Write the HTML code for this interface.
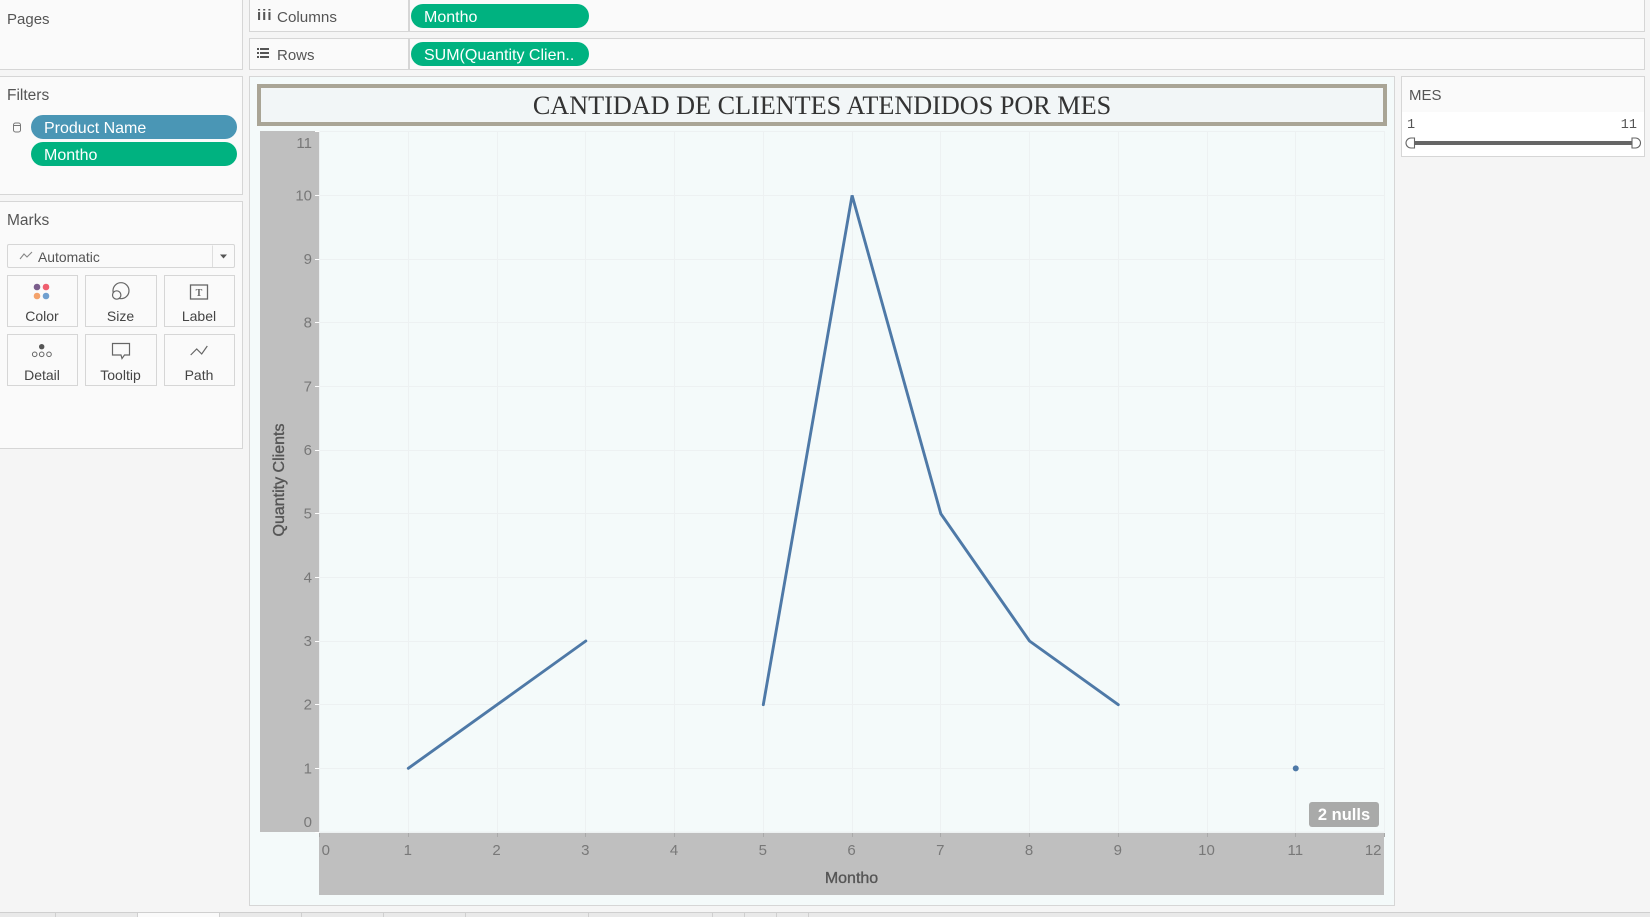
<!DOCTYPE html>
<html lang="en">
<head>
<meta charset="utf-8">
<title>Cantidad de clientes atendidos por mes</title>
<style>
html,body{margin:0;padding:0;background:#f5f5f5;}
#app{position:relative;width:1650px;height:917px;overflow:hidden;background:#f5f5f5;font-family:"Liberation Sans",sans-serif;color:#555;}
.panel{position:absolute;box-sizing:border-box;background:#fafafa;border:1.5px solid #d6d6d6;}
.txt{position:absolute;white-space:nowrap;font-size:15px;line-height:18px;color:#555;}
.pill{position:absolute;box-sizing:border-box;border-radius:12px;color:#fff;font-size:16px;line-height:27px;height:24px;padding-left:13px;white-space:nowrap;overflow:hidden;}
.green{background:#00b280;}
.blue{background:#4a96b5;}
.btn{position:absolute;box-sizing:border-box;background:#fafafa;border:1.5px solid #d6d6d6;width:71px;height:52px;}
.btn span{position:absolute;left:-1px;right:0;top:32px;text-align:center;font-size:14px;line-height:16px;color:#444;}
.btn svg{position:absolute;left:-1.5px;top:-1.5px;}
.tab{position:absolute;top:912px;height:5px;box-sizing:border-box;border-top:1.5px solid #cfcfcf;border-right:1.5px solid #cfcfcf;background:#e9e9e9;}
</style>
</head>
<body>
<div id="app">

  <div class="panel" style="left:-2px;top:-2px;width:244.5px;height:71.5px;"></div>
  <div class="txt" style="left:7px;top:11px;">Pages</div>

  <div class="panel" style="left:-2px;top:76px;width:244.5px;height:118.5px;"></div>
  <div class="txt" style="left:7px;top:87px;font-size:15.5px;">Filters</div>
  <svg style="position:absolute;left:12px;top:121px;" width="10" height="13"><rect x="1.5" y="2" width="7" height="9" rx="2" fill="none" stroke="#777" stroke-width="1"/><line x1="1.5" y1="4.500" x2="8.500" y2="4.500" stroke="#777" stroke-width="1"/></svg>
  <div class="pill blue" style="left:31px;top:115px;width:206px;">Product Name</div>
  <div class="pill green" style="left:31px;top:142px;width:206px;">Montho</div>

  <div class="panel" style="left:-2px;top:201px;width:244.5px;height:247.5px;"></div>
  <div class="txt" style="left:7px;top:212px;font-size:15.5px;">Marks</div>
  <div class="panel" style="left:7px;top:244px;width:228px;height:24px;border-radius:2px;"></div>
  <svg style="position:absolute;left:18px;top:245px;overflow:visible;" width="216" height="22">
    <polyline points="2,14 6,9 9,12 14,7" fill="none" stroke="#888" stroke-width="1.1"/>
    <line x1="194.500" y1="0.500" x2="194.500" y2="22" stroke="#dedede" stroke-width="1"/>
    <polygon points="202,9.500 209,9.500 205.500,13.500" fill="#555"/>
  </svg>
  <div class="txt" style="left:38px;top:247.500px;font-size:13.900px;">Automatic</div>

  <div class="btn" style="left:7px;top:275px;">
    <svg width="71" height="30"><circle cx="30" cy="12" r="3.300" fill="#7b5e8c"/><circle cx="39" cy="12" r="3.300" fill="#ef5f6f"/><circle cx="30" cy="21" r="3.300" fill="#f4a26b"/><circle cx="39" cy="21" r="3.300" fill="#6f9fcf"/></svg>
    <span>Color</span>
  </div>
  <div class="btn" style="left:85px;top:275px;width:72px;">
    <svg width="72" height="30"><circle cx="36" cy="15.700" r="8" fill="none" stroke="#666" stroke-width="1.200"/><circle cx="31.700" cy="20" r="4.200" fill="#fafafa" stroke="#666" stroke-width="1.200"/></svg>
    <span>Size</span>
  </div>
  <div class="btn" style="left:164px;top:275px;">
    <svg width="71" height="30"><rect x="26.500" y="10" width="17" height="14" fill="none" stroke="#666" stroke-width="1.300"/><text x="35" y="21" text-anchor="middle" font-family="Liberation Serif, serif" font-size="10" font-weight="bold" fill="#666">T</text></svg>
    <span>Label</span>
  </div>
  <div class="btn" style="left:7px;top:334px;">
    <svg width="71" height="30"><circle cx="34.700" cy="12.700" r="2.700" fill="#555"/><circle cx="27.700" cy="20.300" r="2.300" fill="none" stroke="#666"/><circle cx="34.700" cy="20.300" r="2.300" fill="none" stroke="#666"/><circle cx="42" cy="20.300" r="2.300" fill="none" stroke="#666"/></svg>
    <span>Detail</span>
  </div>
  <div class="btn" style="left:85px;top:334px;width:72px;">
    <svg width="72" height="30"><path d="M27.500 9.500h17v11.500h-5l-2.500 3.500-1-3.500h-8.500z" fill="none" stroke="#666" stroke-width="1.200"/></svg>
    <span>Tooltip</span>
  </div>
  <div class="btn" style="left:164px;top:334px;">
    <svg width="71" height="30"><polyline points="26.700,21 32.700,15 37.700,20 43.300,12" fill="none" stroke="#666" stroke-width="1.200"/></svg>
    <span>Path</span>
  </div>

  <div class="panel" style="left:249px;top:-2px;width:1396px;height:33.500px;"></div>
  <div style="position:absolute;left:408px;top:0;width:1.500px;height:31px;background:#d6d6d6;"></div>
  <div class="txt" style="left:257px;top:7px;letter-spacing:1px;font-weight:bold;font-size:15px;">iii</div>
  <div class="txt" style="left:277px;top:9px;font-size:15.200px;">Columns</div>
  <div class="pill green" style="left:411px;top:4px;width:178px;">Montho</div>

  <div class="panel" style="left:249px;top:38px;width:1396px;height:31.500px;"></div>
  <div style="position:absolute;left:408px;top:38px;width:1.500px;height:31px;background:#d6d6d6;"></div>
  <svg style="position:absolute;left:257px;top:48px;" width="13" height="11"><g fill="#555"><rect x="0" y="0" width="2" height="2"/><rect x="3" y="0" width="9" height="2"/><rect x="0" y="4" width="2" height="2"/><rect x="3" y="4" width="9" height="2"/><rect x="0" y="8" width="2" height="2"/><rect x="3" y="8" width="9" height="2"/></g></svg>
  <div class="txt" style="left:277px;top:47px;">Rows</div>
  <div class="pill green" style="left:411px;top:42px;width:178px;">SUM(Quantity Clien..</div>

  <div class="panel" style="left:249px;top:76px;width:1146px;height:830px;background:#f4fafa;"></div>
  <div style="position:absolute;box-sizing:border-box;left:257px;top:84px;width:1130px;height:42px;background:#f2f6f7;border:4px solid #a9a596;"></div>
  <div style="position:absolute;left:257px;width:1130px;top:89px;height:34px;line-height:34px;text-align:center;font-family:'Liberation Serif',serif;font-size:26.200px;color:#333;white-space:nowrap;">CANTIDAD DE CLIENTES ATENDIDOS POR MES</div>

  <svg id="chart" style="position:absolute;left:0;top:0;" width="1650" height="917" font-family="Liberation Sans, sans-serif"></svg>

  <div class="panel" style="left:1401px;top:76px;width:244px;height:81px;"></div>
  <div style="position:absolute;left:1402px;top:112px;width:242px;height:44px;background:#fff;"></div>
  <div class="txt" style="left:1409px;top:87px;">MES</div>
  <div class="txt" style="left:1407px;top:117px;font-size:13.500px;font-family:'Liberation Mono',monospace;">1</div>
  <div class="txt" style="right:13px;top:117px;font-size:13.500px;font-family:'Liberation Mono',monospace;">11</div>
  <svg style="position:absolute;left:1400px;top:132px;" width="244" height="22">
    <rect x="15" y="9" width="217" height="4" fill="#666"/>
    <path d="M14.500 6h-3.500a5 5 0 0 0 0 10h3.500z" fill="#fff" stroke="#666" stroke-width="1.100"/>
    <path d="M232 6h3.500a5 5 0 0 1 0 10h-3.500z" fill="#fff" stroke="#666" stroke-width="1.100"/>
  </svg>

  <div id="tabs"></div>
</div>

<script>
const xTicks = [0, 1, 2, 3, 4, 5, 6, 7, 8, 9, 10, 11, 12];
const yTicks = [0, 1, 2, 3, 4, 5, 6, 7, 8, 9, 10, 11];
const months = [1, 2, 3, 4, 5, 6, 7, 8, 9, 10, 11];
const quantityClients = [1, 2, 3, null, 2, 10, 5, 3, 2, null, 1];
const nullCount = 2;

const svgNS = 'http://www.w3.org/2000/svg';
const chart = document.getElementById('chart');
const X = v => 319.6 + (v - 0) * (1384.5 - 319.6) / 12;
const Y = v => 832 - (v - 0) * (832 - 131.7) / 11;

function mk(tag, attrs, parent) {
  const el = document.createElementNS(svgNS, tag);
  for (const k in attrs) el.setAttribute(k, attrs[k]);
  (parent || chart).appendChild(el);
  return el;
}

const yBand = mk('rect', {x: 260, y: 131, width: 59.5, height: 701, fill: '#bfbfbf'});


const xBand = mk('rect', {x: 319, y: 833, width: 1065, height: 62, fill: '#bfbfbf'});


const pane = mk('rect', {x: 319.5, y: 131.5, width: 1065, height: 700.5, fill: '#f4fafa', stroke: '#eef2f3', 'stroke-width': 1});



xTicks.forEach(function (t) {
  const px = Math.floor(X(t)) + 0.5;
  const grid = mk('line', {x1: px, x2: px, y1: 131, y2: 832, stroke: '#edf1f2', 'stroke-width': 1});
  
  
  const tick = mk('line', {x1: px, x2: px, y1: 833, y2: 837, stroke: '#a9a9a9', 'stroke-width': 1});
  
  
  let anchor = 'middle', lx = X(t) - 0.5;
  if (t === xTicks[0]) { anchor = 'start'; lx = X(t) + 2; }
  if (t === xTicks[xTicks.length - 1]) { anchor = 'end'; lx = X(t) - 3; }
  const label = mk('text', {x: lx, y: 855, 'text-anchor': anchor, 'font-size': 15, fill: '#787878'});
  
  
  label.textContent = t;
});

yTicks.forEach(function (t) {
  const py = Math.floor(Y(t)) + 0.5;
  const grid = mk('line', {x1: 319, x2: 1384, y1: py, y2: py, stroke: '#edf1f2', 'stroke-width': 1});
  
  
  const tick = mk('line', {x1: 315, x2: 319.5, y1: py, y2: py, stroke: '#ffffff', 'stroke-width': 1});
  
  
  let ly = Y(t) + 5;
  if (t === yTicks[0]) ly = Y(t) - 5;
  if (t === yTicks[yTicks.length - 1]) ly = Y(t) + 16.5;
  const label = mk('text', {x: 312, y: ly, 'text-anchor': 'end', 'font-size': 15, fill: '#787878'});
  
  
  label.textContent = t;
});

let run = [];
function flushRun() {
  if (run.length === 1) {
    const dot = mk('circle', {cx: X(run[0][0]), cy: Y(run[0][1]), r: 3, fill: '#4e79a7'});
    
    
  } else if (run.length > 1) {
    const pts = run.map(p => X(p[0]).toFixed(1) + ',' + Y(p[1]).toFixed(1)).join(' ');
    const line = mk('polyline', {points: pts, fill: 'none', stroke: '#4e79a7', 'stroke-width': 2.9, 'stroke-linejoin': 'miter', 'stroke-linecap': 'round'});
    
    
  }
  run = [];
}
months.forEach(function (m, i) {
  if (quantityClients[i] === null) { flushRun(); }
  else { run.push([m, quantityClients[i]]); }
});
flushRun();

const badge = mk('rect', {x: 1309, y: 802, width: 70, height: 25, rx: 3, fill: '#a9aaa9'});


const badgeText = mk('text', {x: 1344, y: 820, 'text-anchor': 'middle', 'font-size': 16.5, 'font-weight': 'bold', fill: '#ffffff'});


badgeText.textContent = nullCount + ' nulls';

const xTitle = mk('text', {x: 851.5, y: 883, 'text-anchor': 'middle', 'font-size': 16, 'font-weight': 'normal', stroke: '#555555', 'stroke-width': 0.35, fill: '#555555'});


xTitle.textContent = 'Montho';
const yTitle = mk('text', {x: 0, y: 0, 'text-anchor': 'middle', 'font-size': 16, 'font-weight': 'normal', stroke: '#555555', 'stroke-width': 0.35, fill: '#555555', transform: 'translate(284,480) rotate(-90)'});


yTitle.textContent = 'Quantity Clients';

const tabEdges = [0, 55.5, 137.5, 219.5, 301.5, 383.5, 465.5, 589, 713, 745, 777, 809];
const tabBar = document.getElementById('tabs');
for (let i = 0; i < tabEdges.length - 1; i++) {
  const tab = document.createElement('div');
  
  
  tab.className = 'tab';
  tab.style.left = tabEdges[i] + 'px';
  tab.style.width = (tabEdges[i + 1] - tabEdges[i]) + 'px';
  if (i === 2) tab.style.background = '#fafafa';
  tabBar.appendChild(tab);
}
const tabRest = document.createElement('div');


tabRest.className = 'tab';
tabRest.style.left = '809px';
tabRest.style.width = '841px';
tabRest.style.borderRight = 'none';
tabBar.appendChild(tabRest);
</script>
</body>
</html>
